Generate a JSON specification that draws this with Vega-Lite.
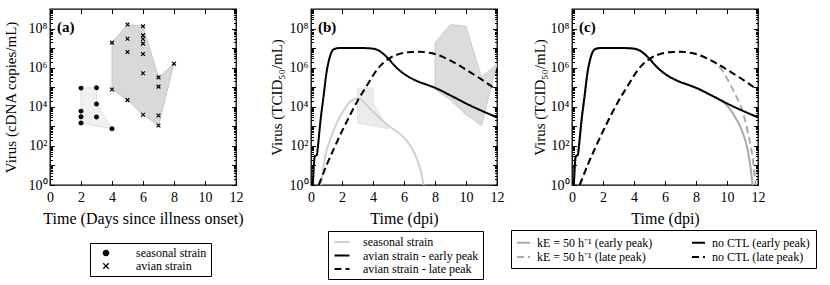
{
  "$schema": "https://vega.github.io/schema/vega-lite/v6.json",
  "padding": {"left": 2, "top": 7, "right": 4, "bottom": 4},
  "bounds": "flush",
  "spacing": 75,
  "resolve": {
    "scale": {"color": "independent", "strokeDash": "independent", "shape": "independent"},
    "legend": {"color": "independent", "strokeDash": "independent", "shape": "independent"}
  },
  "config": {
    "font": "Liberation Serif",
    "view": {"stroke": "black", "strokeWidth": 1.3},
    "axis": {"grid": false, "domain": false, "labelFont": "Liberation Serif", "labelFontSize": 14, "labelColor": "black", "titleFont": "Liberation Serif", "titleFontSize": 15, "titleFontWeight": "normal", "titleColor": "black", "tickColor": "black", "tickWidth": 1, "labelFlush": false, "labelOverlap": false},
    "legend": {"labelFont": "Liberation Serif", "labelFontSize": 12, "labelColor": "black", "labelLimit": 300}
  },
  "datasets": {
    "pts": [
      {"s": "seasonal strain", "t": 2, "v": 90000}, {"s": "seasonal strain", "t": 2, "v": 6000}, {"s": "seasonal strain", "t": 2, "v": 3100}, {"s": "seasonal strain", "t": 2, "v": 1500},
      {"s": "seasonal strain", "t": 3, "v": 94000}, {"s": "seasonal strain", "t": 3, "v": 14000}, {"s": "seasonal strain", "t": 3, "v": 3000}, {"s": "seasonal strain", "t": 4, "v": 760},
      {"s": "avian strain", "t": 4, "v": 1.9e7}, {"s": "avian strain", "t": 4, "v": 77000},
      {"s": "avian strain", "t": 5, "v": 1.6e8}, {"s": "avian strain", "t": 5, "v": 3e7}, {"s": "avian strain", "t": 5, "v": 6.3e6}, {"s": "avian strain", "t": 5, "v": 22000},
      {"s": "avian strain", "t": 6, "v": 1.3e8}, {"s": "avian strain", "t": 6, "v": 4.5e7}, {"s": "avian strain", "t": 6, "v": 2.9e7}, {"s": "avian strain", "t": 6, "v": 1.7e7}, {"s": "avian strain", "t": 6, "v": 5e6}, {"s": "avian strain", "t": 6, "v": 5.2e5}, {"s": "avian strain", "t": 6, "v": 3900},
      {"s": "avian strain", "t": 7, "v": 3.2e5}, {"s": "avian strain", "t": 7, "v": 1.07e5}, {"s": "avian strain", "t": 7, "v": 3600}, {"s": "avian strain", "t": 7, "v": 1100},
      {"s": "avian strain", "t": 8, "v": 1.6e6}
    ],
    "poly": [
      {"p": "a", "g": "seasonal", "i": 0, "t": 2, "v": 90000}, {"p": "a", "g": "seasonal", "i": 1, "t": 3, "v": 94000}, {"p": "a", "g": "seasonal", "i": 2, "t": 3, "v": 14000}, {"p": "a", "g": "seasonal", "i": 3, "t": 4, "v": 760}, {"p": "a", "g": "seasonal", "i": 4, "t": 2, "v": 1500},
      {"p": "a", "g": "avian", "i": 0, "t": 4, "v": 1.9e7}, {"p": "a", "g": "avian", "i": 1, "t": 5, "v": 1.6e8}, {"p": "a", "g": "avian", "i": 2, "t": 6, "v": 1.3e8}, {"p": "a", "g": "avian", "i": 3, "t": 7, "v": 3.2e5}, {"p": "a", "g": "avian", "i": 4, "t": 8, "v": 1.6e6}, {"p": "a", "g": "avian", "i": 5, "t": 7, "v": 1100}, {"p": "a", "g": "avian", "i": 6, "t": 6, "v": 3900}, {"p": "a", "g": "avian", "i": 7, "t": 5, "v": 22000}, {"p": "a", "g": "avian", "i": 8, "t": 4, "v": 77000},
      {"p": "b", "g": "seasonal", "i": 0, "t": 3, "v": 90000}, {"p": "b", "g": "seasonal", "i": 1, "t": 4, "v": 90000}, {"p": "b", "g": "seasonal", "i": 2, "t": 4, "v": 15000}, {"p": "b", "g": "seasonal", "i": 3, "t": 5, "v": 760}, {"p": "b", "g": "seasonal", "i": 4, "t": 3, "v": 1500},
      {"p": "b", "g": "avian", "i": 0, "t": 8, "v": 1.9e7}, {"p": "b", "g": "avian", "i": 1, "t": 9, "v": 1.6e8}, {"p": "b", "g": "avian", "i": 2, "t": 10, "v": 1.3e8}, {"p": "b", "g": "avian", "i": 3, "t": 11, "v": 3.2e5}, {"p": "b", "g": "avian", "i": 4, "t": 12, "v": 1.6e6}, {"p": "b", "g": "avian", "i": 5, "t": 11, "v": 1100}, {"p": "b", "g": "avian", "i": 6, "t": 10, "v": 3900}, {"p": "b", "g": "avian", "i": 7, "t": 9, "v": 22000}, {"p": "b", "g": "avian", "i": 8, "t": 8, "v": 77000}
    ],
    "curves": [
      {"p": "b", "s": "seasonal strain", "t": 0.65, "v": 1}, {"p": "b", "s": "seasonal strain", "t": 0.78, "v": 6.31}, {"p": "b", "s": "seasonal strain", "t": 0.92, "v": 30.2}, {"p": "b", "s": "seasonal strain", "t": 1.25, "v": 218.8}, {"p": "b", "s": "seasonal strain", "t": 1.68, "v": 1585}, {"p": "b", "s": "seasonal strain", "t": 2.1, "v": 6310}, {"p": "b", "s": "seasonal strain", "t": 2.54, "v": 18620}, {"p": "b", "s": "seasonal strain", "t": 2.86, "v": 25120}, {"p": "b", "s": "seasonal strain", "t": 3.08, "v": 26920}, {"p": "b", "s": "seasonal strain", "t": 3.3, "v": 21380}, {"p": "b", "s": "seasonal strain", "t": 3.61, "v": 11480}, {"p": "b", "s": "seasonal strain", "t": 4.26, "v": 3548}, {"p": "b", "s": "seasonal strain", "t": 5.0, "v": 1072}, {"p": "b", "s": "seasonal strain", "t": 5.76, "v": 398}, {"p": "b", "s": "seasonal strain", "t": 6.41, "v": 100}, {"p": "b", "s": "seasonal strain", "t": 6.84, "v": 20.4}, {"p": "b", "s": "seasonal strain", "t": 7.16, "v": 2.82}, {"p": "b", "s": "seasonal strain", "t": 7.27, "v": 1},

      {"p": "b", "s": "avian strain - early peak", "t": 0.12, "v": 1}, {"p": "b", "s": "avian strain - early peak", "t": 0.2, "v": 15.8}, {"p": "b", "s": "avian strain - early peak", "t": 0.24, "v": 28.2}, {"p": "b", "s": "avian strain - early peak", "t": 0.38, "v": 35.5}, {"p": "b", "s": "avian strain - early peak", "t": 0.45, "v": 100}, {"p": "b", "s": "avian strain - early peak", "t": 0.6, "v": 1585}, {"p": "b", "s": "avian strain - early peak", "t": 0.82, "v": 39810}, {"p": "b", "s": "avian strain - early peak", "t": 1.0, "v": 562300}, {"p": "b", "s": "avian strain - early peak", "t": 1.15, "v": 2239000}, {"p": "b", "s": "avian strain - early peak", "t": 1.3, "v": 5623000}, {"p": "b", "s": "avian strain - early peak", "t": 1.5, "v": 8913000}, {"p": "b", "s": "avian strain - early peak", "t": 1.8, "v": 1e7}, {"p": "b", "s": "avian strain - early peak", "t": 2.5, "v": 1.02e7}, {"p": "b", "s": "avian strain - early peak", "t": 3.5, "v": 1e7}, {"p": "b", "s": "avian strain - early peak", "t": 4.0, "v": 9.33e6}, {"p": "b", "s": "avian strain - early peak", "t": 4.3, "v": 7.94e6}, {"p": "b", "s": "avian strain - early peak", "t": 4.6, "v": 5.62e6}, {"p": "b", "s": "avian strain - early peak", "t": 5.0, "v": 2.82e6}, {"p": "b", "s": "avian strain - early peak", "t": 5.4, "v": 1.26e6}, {"p": "b", "s": "avian strain - early peak", "t": 5.8, "v": 6.31e5}, {"p": "b", "s": "avian strain - early peak", "t": 6.2, "v": 3.8e5}, {"p": "b", "s": "avian strain - early peak", "t": 6.8, "v": 2.14e5}, {"p": "b", "s": "avian strain - early peak", "t": 7.5, "v": 1.32e5}, {"p": "b", "s": "avian strain - early peak", "t": 8.0, "v": 93300}, {"p": "b", "s": "avian strain - early peak", "t": 9.0, "v": 38000}, {"p": "b", "s": "avian strain - early peak", "t": 9.5, "v": 23700}, {"p": "b", "s": "avian strain - early peak", "t": 10.0, "v": 14800}, {"p": "b", "s": "avian strain - early peak", "t": 11.0, "v": 6310}, {"p": "b", "s": "avian strain - early peak", "t": 12.0, "v": 2884},

      {"p": "b", "s": "avian strain - late peak", "t": 0.5, "v": 1}, {"p": "b", "s": "avian strain - late peak", "t": 1.0, "v": 10}, {"p": "b", "s": "avian strain - late peak", "t": 1.5, "v": 79.4}, {"p": "b", "s": "avian strain - late peak", "t": 2.0, "v": 562}, {"p": "b", "s": "avian strain - late peak", "t": 2.5, "v": 3548}, {"p": "b", "s": "avian strain - late peak", "t": 3.0, "v": 19950}, {"p": "b", "s": "avian strain - late peak", "t": 3.5, "v": 89130}, {"p": "b", "s": "avian strain - late peak", "t": 4.0, "v": 398100}, {"p": "b", "s": "avian strain - late peak", "t": 4.5, "v": 1.318e6}, {"p": "b", "s": "avian strain - late peak", "t": 5.0, "v": 2.818e6}, {"p": "b", "s": "avian strain - late peak", "t": 5.5, "v": 4.467e6}, {"p": "b", "s": "avian strain - late peak", "t": 6.0, "v": 5.754e6}, {"p": "b", "s": "avian strain - late peak", "t": 6.5, "v": 6.31e6}, {"p": "b", "s": "avian strain - late peak", "t": 7.0, "v": 6.457e6}, {"p": "b", "s": "avian strain - late peak", "t": 7.5, "v": 6.026e6}, {"p": "b", "s": "avian strain - late peak", "t": 8.0, "v": 5.012e6}, {"p": "b", "s": "avian strain - late peak", "t": 8.5, "v": 3.548e6}, {"p": "b", "s": "avian strain - late peak", "t": 9.0, "v": 2.291e6}, {"p": "b", "s": "avian strain - late peak", "t": 9.5, "v": 1.38e6}, {"p": "b", "s": "avian strain - late peak", "t": 10.0, "v": 7.943e5}, {"p": "b", "s": "avian strain - late peak", "t": 10.5, "v": 4.467e5}, {"p": "b", "s": "avian strain - late peak", "t": 11.0, "v": 2.512e5}, {"p": "b", "s": "avian strain - late peak", "t": 11.5, "v": 1.349e5}, {"p": "b", "s": "avian strain - late peak", "t": 12.0, "v": 70790},

      {"p": "c", "s": "kE = 50 h⁻¹ (early peak)", "t": 0.12, "v": 1}, {"p": "c", "s": "kE = 50 h⁻¹ (early peak)", "t": 0.2, "v": 15.8}, {"p": "c", "s": "kE = 50 h⁻¹ (early peak)", "t": 0.24, "v": 28.2}, {"p": "c", "s": "kE = 50 h⁻¹ (early peak)", "t": 0.38, "v": 35.5}, {"p": "c", "s": "kE = 50 h⁻¹ (early peak)", "t": 0.45, "v": 100}, {"p": "c", "s": "kE = 50 h⁻¹ (early peak)", "t": 0.6, "v": 1585}, {"p": "c", "s": "kE = 50 h⁻¹ (early peak)", "t": 0.82, "v": 39810}, {"p": "c", "s": "kE = 50 h⁻¹ (early peak)", "t": 1.0, "v": 562300}, {"p": "c", "s": "kE = 50 h⁻¹ (early peak)", "t": 1.15, "v": 2239000}, {"p": "c", "s": "kE = 50 h⁻¹ (early peak)", "t": 1.3, "v": 5623000}, {"p": "c", "s": "kE = 50 h⁻¹ (early peak)", "t": 1.5, "v": 8913000}, {"p": "c", "s": "kE = 50 h⁻¹ (early peak)", "t": 1.8, "v": 1e7}, {"p": "c", "s": "kE = 50 h⁻¹ (early peak)", "t": 2.5, "v": 1.02e7}, {"p": "c", "s": "kE = 50 h⁻¹ (early peak)", "t": 3.5, "v": 1e7}, {"p": "c", "s": "kE = 50 h⁻¹ (early peak)", "t": 4.0, "v": 9.33e6}, {"p": "c", "s": "kE = 50 h⁻¹ (early peak)", "t": 4.3, "v": 7.94e6}, {"p": "c", "s": "kE = 50 h⁻¹ (early peak)", "t": 4.6, "v": 5.62e6}, {"p": "c", "s": "kE = 50 h⁻¹ (early peak)", "t": 5.0, "v": 2.82e6}, {"p": "c", "s": "kE = 50 h⁻¹ (early peak)", "t": 5.4, "v": 1.26e6}, {"p": "c", "s": "kE = 50 h⁻¹ (early peak)", "t": 5.8, "v": 6.31e5}, {"p": "c", "s": "kE = 50 h⁻¹ (early peak)", "t": 6.2, "v": 3.8e5}, {"p": "c", "s": "kE = 50 h⁻¹ (early peak)", "t": 6.8, "v": 2.14e5}, {"p": "c", "s": "kE = 50 h⁻¹ (early peak)", "t": 7.5, "v": 1.32e5}, {"p": "c", "s": "kE = 50 h⁻¹ (early peak)", "t": 8.0, "v": 93300}, {"p": "c", "s": "kE = 50 h⁻¹ (early peak)", "t": 9.0, "v": 38000}, {"p": "c", "s": "kE = 50 h⁻¹ (early peak)", "t": 9.5, "v": 23700}, {"p": "c", "s": "kE = 50 h⁻¹ (early peak)", "t": 10.0, "v": 11220}, {"p": "c", "s": "kE = 50 h⁻¹ (early peak)", "t": 10.5, "v": 3162}, {"p": "c", "s": "kE = 50 h⁻¹ (early peak)", "t": 11.0, "v": 501}, {"p": "c", "s": "kE = 50 h⁻¹ (early peak)", "t": 11.3, "v": 79.4}, {"p": "c", "s": "kE = 50 h⁻¹ (early peak)", "t": 11.5, "v": 10}, {"p": "c", "s": "kE = 50 h⁻¹ (early peak)", "t": 11.65, "v": 1},

      {"p": "c", "s": "kE = 50 h⁻¹ (late peak)", "t": 0.5, "v": 1}, {"p": "c", "s": "kE = 50 h⁻¹ (late peak)", "t": 1.0, "v": 10}, {"p": "c", "s": "kE = 50 h⁻¹ (late peak)", "t": 1.5, "v": 79.4}, {"p": "c", "s": "kE = 50 h⁻¹ (late peak)", "t": 2.0, "v": 562}, {"p": "c", "s": "kE = 50 h⁻¹ (late peak)", "t": 2.5, "v": 3548}, {"p": "c", "s": "kE = 50 h⁻¹ (late peak)", "t": 3.0, "v": 19950}, {"p": "c", "s": "kE = 50 h⁻¹ (late peak)", "t": 3.5, "v": 89130}, {"p": "c", "s": "kE = 50 h⁻¹ (late peak)", "t": 4.0, "v": 398100}, {"p": "c", "s": "kE = 50 h⁻¹ (late peak)", "t": 4.5, "v": 1.318e6}, {"p": "c", "s": "kE = 50 h⁻¹ (late peak)", "t": 5.0, "v": 2.818e6}, {"p": "c", "s": "kE = 50 h⁻¹ (late peak)", "t": 5.5, "v": 4.467e6}, {"p": "c", "s": "kE = 50 h⁻¹ (late peak)", "t": 6.0, "v": 5.754e6}, {"p": "c", "s": "kE = 50 h⁻¹ (late peak)", "t": 6.5, "v": 6.31e6}, {"p": "c", "s": "kE = 50 h⁻¹ (late peak)", "t": 7.0, "v": 6.457e6}, {"p": "c", "s": "kE = 50 h⁻¹ (late peak)", "t": 7.5, "v": 6.026e6}, {"p": "c", "s": "kE = 50 h⁻¹ (late peak)", "t": 8.0, "v": 5.012e6}, {"p": "c", "s": "kE = 50 h⁻¹ (late peak)", "t": 8.5, "v": 3.548e6}, {"p": "c", "s": "kE = 50 h⁻¹ (late peak)", "t": 9.0, "v": 2.291e6}, {"p": "c", "s": "kE = 50 h⁻¹ (late peak)", "t": 9.3, "v": 1.585e6}, {"p": "c", "s": "kE = 50 h⁻¹ (late peak)", "t": 9.6, "v": 9.12e5}, {"p": "c", "s": "kE = 50 h⁻¹ (late peak)", "t": 10.0, "v": 2.818e5}, {"p": "c", "s": "kE = 50 h⁻¹ (late peak)", "t": 10.24, "v": 1.259e5}, {"p": "c", "s": "kE = 50 h⁻¹ (late peak)", "t": 10.5, "v": 50120}, {"p": "c", "s": "kE = 50 h⁻¹ (late peak)", "t": 10.78, "v": 16980}, {"p": "c", "s": "kE = 50 h⁻¹ (late peak)", "t": 11.0, "v": 6310}, {"p": "c", "s": "kE = 50 h⁻¹ (late peak)", "t": 11.2, "v": 1585}, {"p": "c", "s": "kE = 50 h⁻¹ (late peak)", "t": 11.4, "v": 316}, {"p": "c", "s": "kE = 50 h⁻¹ (late peak)", "t": 11.53, "v": 100}, {"p": "c", "s": "kE = 50 h⁻¹ (late peak)", "t": 11.7, "v": 12.6}, {"p": "c", "s": "kE = 50 h⁻¹ (late peak)", "t": 11.85, "v": 1},

      {"p": "c", "s": "no CTL (early peak)", "t": 0.12, "v": 1}, {"p": "c", "s": "no CTL (early peak)", "t": 0.2, "v": 15.8}, {"p": "c", "s": "no CTL (early peak)", "t": 0.24, "v": 28.2}, {"p": "c", "s": "no CTL (early peak)", "t": 0.38, "v": 35.5}, {"p": "c", "s": "no CTL (early peak)", "t": 0.45, "v": 100}, {"p": "c", "s": "no CTL (early peak)", "t": 0.6, "v": 1585}, {"p": "c", "s": "no CTL (early peak)", "t": 0.82, "v": 39810}, {"p": "c", "s": "no CTL (early peak)", "t": 1.0, "v": 562300}, {"p": "c", "s": "no CTL (early peak)", "t": 1.15, "v": 2239000}, {"p": "c", "s": "no CTL (early peak)", "t": 1.3, "v": 5623000}, {"p": "c", "s": "no CTL (early peak)", "t": 1.5, "v": 8913000}, {"p": "c", "s": "no CTL (early peak)", "t": 1.8, "v": 1e7}, {"p": "c", "s": "no CTL (early peak)", "t": 2.5, "v": 1.02e7}, {"p": "c", "s": "no CTL (early peak)", "t": 3.5, "v": 1e7}, {"p": "c", "s": "no CTL (early peak)", "t": 4.0, "v": 9.33e6}, {"p": "c", "s": "no CTL (early peak)", "t": 4.3, "v": 7.94e6}, {"p": "c", "s": "no CTL (early peak)", "t": 4.6, "v": 5.62e6}, {"p": "c", "s": "no CTL (early peak)", "t": 5.0, "v": 2.82e6}, {"p": "c", "s": "no CTL (early peak)", "t": 5.4, "v": 1.26e6}, {"p": "c", "s": "no CTL (early peak)", "t": 5.8, "v": 6.31e5}, {"p": "c", "s": "no CTL (early peak)", "t": 6.2, "v": 3.8e5}, {"p": "c", "s": "no CTL (early peak)", "t": 6.8, "v": 2.14e5}, {"p": "c", "s": "no CTL (early peak)", "t": 7.5, "v": 1.32e5}, {"p": "c", "s": "no CTL (early peak)", "t": 8.0, "v": 93300}, {"p": "c", "s": "no CTL (early peak)", "t": 9.0, "v": 38000}, {"p": "c", "s": "no CTL (early peak)", "t": 9.5, "v": 23700}, {"p": "c", "s": "no CTL (early peak)", "t": 10.0, "v": 14800}, {"p": "c", "s": "no CTL (early peak)", "t": 11.0, "v": 6310}, {"p": "c", "s": "no CTL (early peak)", "t": 12.0, "v": 2884},

      {"p": "c", "s": "no CTL (late peak)", "t": 0.5, "v": 1}, {"p": "c", "s": "no CTL (late peak)", "t": 1.0, "v": 10}, {"p": "c", "s": "no CTL (late peak)", "t": 1.5, "v": 79.4}, {"p": "c", "s": "no CTL (late peak)", "t": 2.0, "v": 562}, {"p": "c", "s": "no CTL (late peak)", "t": 2.5, "v": 3548}, {"p": "c", "s": "no CTL (late peak)", "t": 3.0, "v": 19950}, {"p": "c", "s": "no CTL (late peak)", "t": 3.5, "v": 89130}, {"p": "c", "s": "no CTL (late peak)", "t": 4.0, "v": 398100}, {"p": "c", "s": "no CTL (late peak)", "t": 4.5, "v": 1.318e6}, {"p": "c", "s": "no CTL (late peak)", "t": 5.0, "v": 2.818e6}, {"p": "c", "s": "no CTL (late peak)", "t": 5.5, "v": 4.467e6}, {"p": "c", "s": "no CTL (late peak)", "t": 6.0, "v": 5.754e6}, {"p": "c", "s": "no CTL (late peak)", "t": 6.5, "v": 6.31e6}, {"p": "c", "s": "no CTL (late peak)", "t": 7.0, "v": 6.457e6}, {"p": "c", "s": "no CTL (late peak)", "t": 7.5, "v": 6.026e6}, {"p": "c", "s": "no CTL (late peak)", "t": 8.0, "v": 5.012e6}, {"p": "c", "s": "no CTL (late peak)", "t": 8.5, "v": 3.548e6}, {"p": "c", "s": "no CTL (late peak)", "t": 9.0, "v": 2.291e6}, {"p": "c", "s": "no CTL (late peak)", "t": 9.5, "v": 1.38e6}, {"p": "c", "s": "no CTL (late peak)", "t": 10.0, "v": 7.943e5}, {"p": "c", "s": "no CTL (late peak)", "t": 10.5, "v": 4.467e5}, {"p": "c", "s": "no CTL (late peak)", "t": 11.0, "v": 2.512e5}, {"p": "c", "s": "no CTL (late peak)", "t": 11.5, "v": 1.349e5}, {"p": "c", "s": "no CTL (late peak)", "t": 12.0, "v": 70790}
    ]
  },
  "hconcat": [
    {
      "width": 186, "height": 176,
      "resolve": {"axis": {"x": "independent", "y": "independent"}},
      "layer": [
        {
          "data": {"name": "poly"},
          "transform": [{"filter": "datum.p === 'a' && datum.g === 'seasonal'"}],
          "mark": {"type": "line", "interpolate": "linear-closed", "fill": "#f0f0f0", "stroke": "#e0e0e0", "strokeWidth": 1},
          "encoding": {
            "x": {"field": "t", "type": "quantitative", "scale": {"domain": [0, 12], "nice": false},
                  "axis": {"orient": "bottom", "values": [0, 2, 4, 6, 8, 10, 12], "tickSize": -4.5, "labelPadding": 9.5, "title": "Time (Days since illness onset)", "titlePadding": 6, "titleFontSize": 16}},
            "y": {"field": "v", "type": "quantitative", "scale": {"type": "log", "domain": [1, 1e9], "nice": false},
                  "axis": {"orient": "left", "values": [1, 10, 100, 1000, 1e4, 1e5, 1e6, 1e7, 1e8], "tickSize": -4.5, "labelPadding": 7.5, "titlePadding": 10, "title": "Virus (cDNA copies/mL)",
                           "labelExpr": "datum.value === 1 ? '10⁰' : datum.value === 100 ? '10²' : datum.value === 10000 ? '10⁴' : datum.value === 1000000 ? '10⁶' : datum.value === 100000000 ? '10⁸' : ''"}},
            "order": {"field": "i", "type": "quantitative"}
          }
        },
        {
          "data": {"name": "poly"},
          "transform": [{"filter": "datum.p === 'a' && datum.g === 'avian'"}],
          "mark": {"type": "line", "interpolate": "linear-closed", "fill": "#d9d9d9", "stroke": "#c8c8c8", "strokeWidth": 1},
          "encoding": {
            "x": {"field": "t", "type": "quantitative", "scale": {"domain": [0, 12], "nice": false},
                  "axis": {"orient": "top", "values": [0, 2, 4, 6, 8, 10, 12], "tickSize": -4.5, "labels": false, "title": null}},
            "y": {"field": "v", "type": "quantitative", "scale": {"type": "log", "domain": [1, 1e9], "nice": false},
                  "axis": {"orient": "left", "values": [2,3,4,5,6,7,8,9,20,30,40,50,60,70,80,90,200,300,400,500,600,700,800,900,2000,3000,4000,5000,6000,7000,8000,9000,2e4,3e4,4e4,5e4,6e4,7e4,8e4,9e4,2e5,3e5,4e5,5e5,6e5,7e5,8e5,9e5,2e6,3e6,4e6,5e6,6e6,7e6,8e6,9e6,2e7,3e7,4e7,5e7,6e7,7e7,8e7,9e7,2e8,3e8,4e8,5e8,6e8,7e8,8e8,9e8], "tickSize": -2.5, "labels": false, "title": null}},
            "order": {"field": "i", "type": "quantitative"}
          }
        },
        {
          "data": {"name": "pts"},
          "mark": {"type": "point", "filled": true, "fill": "black", "stroke": "black", "strokeWidth": 1.2, "opacity": 1, "size": 14},
          "encoding": {
            "x": {"field": "t", "type": "quantitative", "scale": {"domain": [0, 12], "nice": false}, "axis": null},
            "y": {"field": "v", "type": "quantitative", "scale": {"type": "log", "domain": [1, 1e9], "nice": false},
                  "axis": {"orient": "right", "values": [2,3,4,5,6,7,8,9,20,30,40,50,60,70,80,90,200,300,400,500,600,700,800,900,2000,3000,4000,5000,6000,7000,8000,9000,2e4,3e4,4e4,5e4,6e4,7e4,8e4,9e4,2e5,3e5,4e5,5e5,6e5,7e5,8e5,9e5,2e6,3e6,4e6,5e6,6e6,7e6,8e6,9e6,2e7,3e7,4e7,5e7,6e7,7e7,8e7,9e7,2e8,3e8,4e8,5e8,6e8,7e8,8e8,9e8], "tickSize": -2.5, "labels": false, "title": null}},
            "shape": {"field": "s", "type": "nominal",
                      "scale": {"domain": ["seasonal strain", "avian strain"], "range": ["circle", "M-1,-1L1,1M-1,1L1,-1"]},
                      "legend": {"title": null, "orient": "none", "legendX": 40, "legendY": 234, "strokeColor": "black", "fillColor": "white", "padding": 4, "cornerRadius": 0,
                                 "labelFontSize": 12, "rowPadding": 1, "symbolSize": 30, "symbolOffset": 6, "labelOffset": 24, "symbolStrokeWidth": 1.2}}
          }
        },
        {
          "data": {"values": [{"lab": "(a)"}]},
          "mark": {"type": "text", "align": "left", "baseline": "middle", "fontSize": 15, "fontWeight": "bold", "font": "Liberation Serif", "color": "black"},
          "encoding": {
            "x": {"datum": 0.45, "type": "quantitative", "scale": {"domain": [0, 12], "nice": false}, "axis": null},
            "y": {"datum": 1.25e8, "type": "quantitative", "scale": {"type": "log", "domain": [1, 1e9], "nice": false},
                  "axis": {"orient": "right", "values": [1, 10, 100, 1000, 1e4, 1e5, 1e6, 1e7, 1e8, 1e9], "tickSize": -4.5, "labels": false, "title": null}},
            "text": {"field": "lab"}
          }
        }
      ]
    },
    {
      "width": 186, "height": 176,
      "resolve": {"axis": {"x": "independent", "y": "independent"}},
      "layer": [
        {
          "data": {"name": "poly"},
          "transform": [{"filter": "datum.p === 'b' && datum.g === 'seasonal'"}],
          "mark": {"type": "line", "interpolate": "linear-closed", "fill": "#ececec", "stroke": "#e2e2e2", "strokeWidth": 1},
          "encoding": {
            "x": {"field": "t", "type": "quantitative", "scale": {"domain": [0, 12], "nice": false},
                  "axis": {"orient": "bottom", "values": [0, 2, 4, 6, 8, 10, 12], "tickSize": -4.5, "labelPadding": 9.5, "title": "Time (dpi)", "titlePadding": 6, "titleFontSize": 16}},
            "y": {"field": "v", "type": "quantitative", "scale": {"type": "log", "domain": [1, 1e9], "nice": false},
                  "axis": {"orient": "left", "values": [1, 10, 100, 1000, 1e4, 1e5, 1e6, 1e7, 1e8], "tickSize": -4.5, "labelPadding": 7.5, "titlePadding": 5, "title": "Virus (TCID₅₀/mL)",
                           "labelExpr": "datum.value === 1 ? '10⁰' : datum.value === 100 ? '10²' : datum.value === 10000 ? '10⁴' : datum.value === 1000000 ? '10⁶' : datum.value === 100000000 ? '10⁸' : ''"}},
            "order": {"field": "i", "type": "quantitative"}
          }
        },
        {
          "data": {"name": "poly"},
          "transform": [{"filter": "datum.p === 'b' && datum.g === 'avian'"}],
          "mark": {"type": "line", "interpolate": "linear-closed", "fill": "#dcdcdc", "stroke": "#cccccc", "strokeWidth": 1},
          "encoding": {
            "x": {"field": "t", "type": "quantitative", "scale": {"domain": [0, 12], "nice": false},
                  "axis": {"orient": "top", "values": [0, 2, 4, 6, 8, 10, 12], "tickSize": -4.5, "labels": false, "title": null}},
            "y": {"field": "v", "type": "quantitative", "scale": {"type": "log", "domain": [1, 1e9], "nice": false},
                  "axis": {"orient": "left", "values": [2,3,4,5,6,7,8,9,20,30,40,50,60,70,80,90,200,300,400,500,600,700,800,900,2000,3000,4000,5000,6000,7000,8000,9000,2e4,3e4,4e4,5e4,6e4,7e4,8e4,9e4,2e5,3e5,4e5,5e5,6e5,7e5,8e5,9e5,2e6,3e6,4e6,5e6,6e6,7e6,8e6,9e6,2e7,3e7,4e7,5e7,6e7,7e7,8e7,9e7,2e8,3e8,4e8,5e8,6e8,7e8,8e8,9e8], "tickSize": -2.5, "labels": false, "title": null}},
            "order": {"field": "i", "type": "quantitative"}
          }
        },
        {
          "data": {"name": "curves"},
          "transform": [{"filter": "datum.p === 'b'"}],
          "mark": {"type": "line", "strokeWidth": 2, "clip": true, "interpolate": "monotone"},
          "encoding": {
            "x": {"field": "t", "type": "quantitative", "scale": {"domain": [0, 12], "nice": false}, "axis": null},
            "y": {"field": "v", "type": "quantitative", "scale": {"type": "log", "domain": [1, 1e9], "nice": false},
                  "axis": {"orient": "right", "values": [2,3,4,5,6,7,8,9,20,30,40,50,60,70,80,90,200,300,400,500,600,700,800,900,2000,3000,4000,5000,6000,7000,8000,9000,2e4,3e4,4e4,5e4,6e4,7e4,8e4,9e4,2e5,3e5,4e5,5e5,6e5,7e5,8e5,9e5,2e6,3e6,4e6,5e6,6e6,7e6,8e6,9e6,2e7,3e7,4e7,5e7,6e7,7e7,8e7,9e7,2e8,3e8,4e8,5e8,6e8,7e8,8e8,9e8], "tickSize": -2.5, "labels": false, "title": null}},
            "color": {"field": "s", "type": "nominal",
                      "scale": {"domain": ["seasonal strain", "avian strain - early peak", "avian strain - late peak"], "range": ["#d0d0d0", "#000000", "#000000"]},
                      "legend": {"title": null, "orient": "none", "legendX": 17, "legendY": 222, "strokeColor": "black", "fillColor": "white", "padding": 4, "cornerRadius": 0, "labelFontSize": 12, "rowPadding": 0.5, "symbolType": "M-1.25,0L1.25,0", "symbolSize": 144, "symbolOffset": 3, "symbolStrokeWidth": 2, "labelOffset": 14}},
            "strokeDash": {"field": "s", "type": "nominal",
                      "scale": {"domain": ["seasonal strain", "avian strain - early peak", "avian strain - late peak"], "range": [[1, 0], [1, 0], [7, 4]]},
                      "legend": {"title": null, "orient": "none", "legendX": 17, "legendY": 222, "strokeColor": "black", "fillColor": "white", "padding": 4, "cornerRadius": 0, "labelFontSize": 12, "rowPadding": 0.5, "symbolType": "M-1.25,0L1.25,0", "symbolSize": 144, "symbolOffset": 3, "symbolStrokeWidth": 2, "labelOffset": 14}}
          }
        },
        {
          "data": {"values": [{"lab": "(b)"}]},
          "mark": {"type": "text", "align": "left", "baseline": "middle", "fontSize": 15, "fontWeight": "bold", "font": "Liberation Serif", "color": "black"},
          "encoding": {
            "x": {"datum": 0.45, "type": "quantitative", "scale": {"domain": [0, 12], "nice": false}, "axis": null},
            "y": {"datum": 1.25e8, "type": "quantitative", "scale": {"type": "log", "domain": [1, 1e9], "nice": false},
                  "axis": {"orient": "right", "values": [1, 10, 100, 1000, 1e4, 1e5, 1e6, 1e7, 1e8, 1e9], "tickSize": -4.5, "labels": false, "title": null}},
            "text": {"field": "lab"}
          }
        }
      ]
    },
    {
      "width": 186, "height": 176,
      "resolve": {"axis": {"x": "independent", "y": "independent"}},
      "layer": [
        {
          "data": {"name": "curves"},
          "transform": [{"filter": "datum.p === 'c' && indexof(datum.s, 'kE') === 0"}],
          "mark": {"type": "line", "strokeWidth": 2, "clip": true, "interpolate": "monotone"},
          "encoding": {
            "x": {"field": "t", "type": "quantitative", "scale": {"domain": [0, 12], "nice": false},
                  "axis": {"orient": "bottom", "values": [0, 2, 4, 6, 8, 10, 12], "tickSize": -4.5, "labelPadding": 9.5, "title": "Time (dpi)", "titlePadding": 6, "titleFontSize": 16}},
            "y": {"field": "v", "type": "quantitative", "scale": {"type": "log", "domain": [1, 1e9], "nice": false},
                  "axis": {"orient": "left", "values": [1, 10, 100, 1000, 1e4, 1e5, 1e6, 1e7, 1e8], "tickSize": -4.5, "labelPadding": 7.5, "titlePadding": 3, "title": "Virus (TCID₅₀/mL)",
                           "labelExpr": "datum.value === 1 ? '10⁰' : datum.value === 100 ? '10²' : datum.value === 10000 ? '10⁴' : datum.value === 1000000 ? '10⁶' : datum.value === 100000000 ? '10⁸' : ''"}},
            "color": {"field": "s", "type": "nominal",
                      "scale": {"domain": ["kE = 50 h⁻¹ (early peak)", "kE = 50 h⁻¹ (late peak)", "no CTL (early peak)", "no CTL (late peak)"], "range": ["#aaaaaa", "#aaaaaa", "#000000", "#000000"]},
                      "legend": {"title": null, "orient": "none", "legendX": -61, "legendY": 221, "columns": 2, "columnPadding": 35, "strokeColor": "black", "fillColor": "white", "padding": 5, "cornerRadius": 0, "labelFontSize": 12, "rowPadding": 0.5, "symbolType": "stroke", "symbolSize": 169, "symbolStrokeWidth": 2, "labelOffset": 6}},
            "strokeDash": {"field": "s", "type": "nominal",
                      "scale": {"domain": ["kE = 50 h⁻¹ (early peak)", "kE = 50 h⁻¹ (late peak)", "no CTL (early peak)", "no CTL (late peak)"], "range": [[1, 0], [7, 4], [1, 0], [7, 4]]},
                      "legend": {"title": null, "orient": "none", "legendX": -61, "legendY": 221, "columns": 2, "columnPadding": 35, "strokeColor": "black", "fillColor": "white", "padding": 5, "cornerRadius": 0, "labelFontSize": 12, "rowPadding": 0.5, "symbolType": "stroke", "symbolSize": 169, "symbolStrokeWidth": 2, "labelOffset": 6}}
          }
        },
        {
          "data": {"name": "curves"},
          "transform": [{"filter": "datum.p === 'c' && datum.s === 'no CTL (early peak)'"}],
          "mark": {"type": "line", "strokeWidth": 2, "clip": true, "interpolate": "monotone"},
          "encoding": {
            "x": {"field": "t", "type": "quantitative", "scale": {"domain": [0, 12], "nice": false},
                  "axis": {"orient": "top", "values": [0, 2, 4, 6, 8, 10, 12], "tickSize": -4.5, "labels": false, "title": null}},
            "y": {"field": "v", "type": "quantitative", "scale": {"type": "log", "domain": [1, 1e9], "nice": false},
                  "axis": {"orient": "left", "values": [2,3,4,5,6,7,8,9,20,30,40,50,60,70,80,90,200,300,400,500,600,700,800,900,2000,3000,4000,5000,6000,7000,8000,9000,2e4,3e4,4e4,5e4,6e4,7e4,8e4,9e4,2e5,3e5,4e5,5e5,6e5,7e5,8e5,9e5,2e6,3e6,4e6,5e6,6e6,7e6,8e6,9e6,2e7,3e7,4e7,5e7,6e7,7e7,8e7,9e7,2e8,3e8,4e8,5e8,6e8,7e8,8e8,9e8], "tickSize": -2.5, "labels": false, "title": null}},
            "color": {"field": "s", "type": "nominal"},
            "strokeDash": {"field": "s", "type": "nominal"}
          }
        },
        {
          "data": {"name": "curves"},
          "transform": [{"filter": "datum.p === 'c' && datum.s === 'no CTL (late peak)'"}],
          "mark": {"type": "line", "strokeWidth": 2, "clip": true, "interpolate": "monotone"},
          "encoding": {
            "x": {"field": "t", "type": "quantitative", "scale": {"domain": [0, 12], "nice": false}, "axis": null},
            "y": {"field": "v", "type": "quantitative", "scale": {"type": "log", "domain": [1, 1e9], "nice": false},
                  "axis": {"orient": "right", "values": [2,3,4,5,6,7,8,9,20,30,40,50,60,70,80,90,200,300,400,500,600,700,800,900,2000,3000,4000,5000,6000,7000,8000,9000,2e4,3e4,4e4,5e4,6e4,7e4,8e4,9e4,2e5,3e5,4e5,5e5,6e5,7e5,8e5,9e5,2e6,3e6,4e6,5e6,6e6,7e6,8e6,9e6,2e7,3e7,4e7,5e7,6e7,7e7,8e7,9e7,2e8,3e8,4e8,5e8,6e8,7e8,8e8,9e8], "tickSize": -2.5, "labels": false, "title": null}},
            "color": {"field": "s", "type": "nominal"},
            "strokeDash": {"field": "s", "type": "nominal"}
          }
        },
        {
          "data": {"values": [{"lab": "(c)"}]},
          "mark": {"type": "text", "align": "left", "baseline": "middle", "fontSize": 15, "fontWeight": "bold", "font": "Liberation Serif", "color": "black"},
          "encoding": {
            "x": {"datum": 0.45, "type": "quantitative", "scale": {"domain": [0, 12], "nice": false}, "axis": null},
            "y": {"datum": 1.25e8, "type": "quantitative", "scale": {"type": "log", "domain": [1, 1e9], "nice": false},
                  "axis": {"orient": "right", "values": [1, 10, 100, 1000, 1e4, 1e5, 1e6, 1e7, 1e8, 1e9], "tickSize": -4.5, "labels": false, "title": null}},
            "text": {"field": "lab"}
          }
        }
      ]
    }
  ]
}
